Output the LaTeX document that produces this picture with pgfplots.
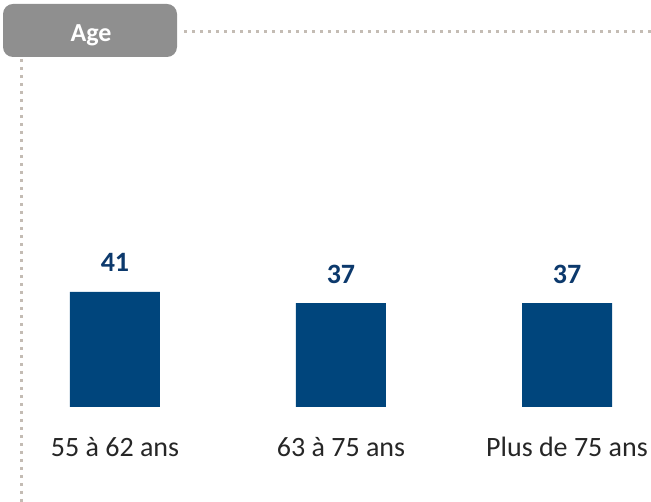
\documentclass[border=0pt]{standalone}
\usepackage{fontspec}
\setmainfont{Carlito}
\usepackage{pgfplots}
\pgfplotsset{compat=1.18}
\definecolor{barblue}{RGB}{0,69,124}
\definecolor{valblue}{RGB}{12,57,108}
\definecolor{tabgray}{RGB}{143,143,143}
\definecolor{dotgray}{RGB}{196,188,180}
\definecolor{labgray}{RGB}{38,38,38}
\begin{document}
\begin{tikzpicture}[x=1pt,y=1pt]
\useasboundingbox (0,0) rectangle (651,502);
% tab
\fill[tabgray, rounded corners=10pt] (3,445) rectangle (177,498);
\node[anchor=base, text=white, font=\fontsize{26}{30}\selectfont\bfseries] at (91,460) {Age};
% dotted lines
\draw[dotgray, line width=3.2pt, dash pattern=on 3.2pt off 4.8pt] (184,470.3) -- (651,470.3);
\draw[dotgray, line width=3.2pt, dash pattern=on 3.2pt off 4.8pt] (21.7,443) -- (21.7,0);
\begin{axis}[
  at={(0pt,95pt)}, anchor=south west,
  scale only axis, width=651pt, height=407pt,
  xmin=-0.5088, xmax=2.3717, ymin=0, ymax=145,
  clip=false,
  axis line style={draw=none},
  tick style={draw=none},
  ytick=\empty,
  xtick={0,1,2},
  xticklabels={55 à 62 ans, 63 à 75 ans, Plus de 75 ans},
  xticklabel style={anchor=base, yshift=-45pt, text=labgray, font=\fontsize{28}{34}\selectfont, inner sep=0pt},
  ybar, bar width=90pt,
  nodes near coords,
  /pgf/number format/assume math mode=true,
  every node near coord/.append style={anchor=base, yshift=20pt, text=valblue, font=\fontsize{28}{34}\selectfont\bfseries, inner sep=0pt},
]
\addplot[fill=barblue, draw=none] coordinates {(0,41) (1,37) (2,37)};
\end{axis}
\end{tikzpicture}
\end{document}
